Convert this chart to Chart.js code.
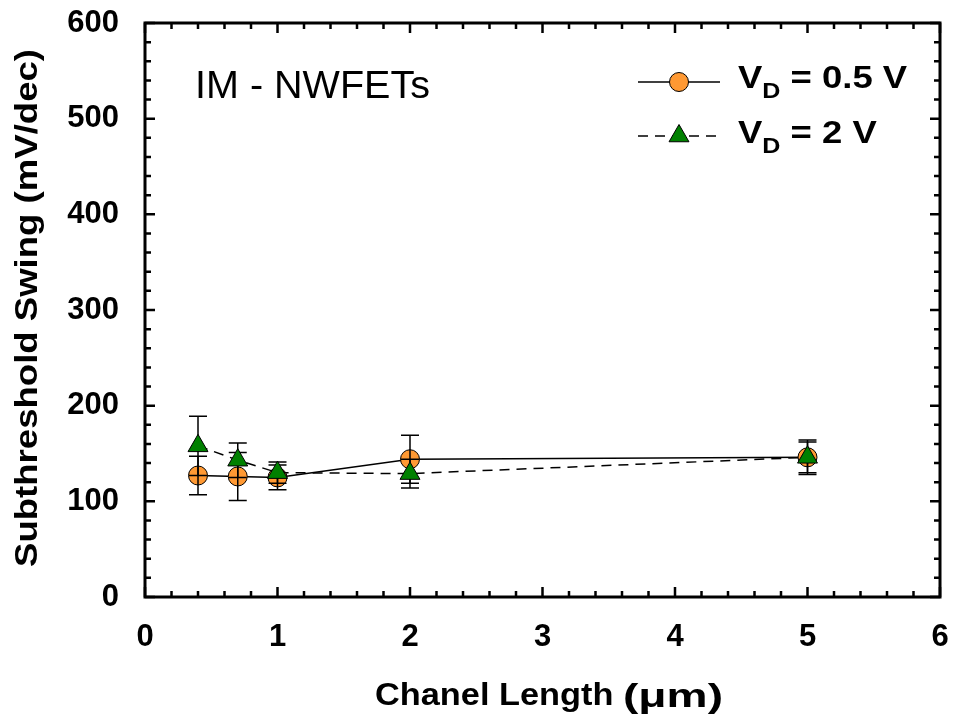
<!DOCTYPE html>
<html>
<head>
<meta charset="utf-8">
<title>Subthreshold Swing vs Channel Length</title>
<script src="https://cdn.jsdelivr.net/npm/chart.js@4/dist/chart.umd.min.js"></script>
<style>
  html, body { margin: 0; padding: 0; background: #ffffff; }
  #wrap { width: 955px; height: 722px; }
</style>
</head>
<body>
<div id="wrap"><canvas id="ss" width="955" height="722"></canvas></div>
<script>
// Channel lengths (µm)
const channelLengths = [0.4, 0.7, 1, 2, 5];
// Subthreshold swing (mV/dec) at VD = 0.5 V, with error half-widths
const swingVd05 = [127, 126, 125, 144, 146];
const swingVd05Err = [20, 25, 13, 25, 16];
// Subthreshold swing (mV/dec) at VD = 2 V, with error half-widths
const swingVd2 = [158, 143, 130, 129, 146];
const swingVd2Err = [31, 18, 11, 15, 18];
// Axis ranges and labels
const xTicks = [0, 1, 2, 3, 4, 5, 6];
const yTicks = [0, 100, 200, 300, 400, 500, 600];
const seriesLabels = ['0.5 V', '2 V'];
const panelLabel = 'IM - NWFETs';
const xTitleMain = 'Chanel Length ';
const xTitleUnit = '(\u03bcm)';
const yTitle = 'Subthreshold Swing (mV/dec)';

const ORANGE = '#FF9933';
const GREEN = '#008000';
const FONT = "'Liberation Sans', Arial, Helvetica, sans-serif";

const toPoints = (ys) => channelLengths.map((x, i) => ({ x: x, y: ys[i] }));

// Error bars for every series, drawn just before the triangles so they sit under them
const errorBars = {
  id: 'errorBars',
  beforeDatasetDraw(chart, args) {
    if (args.index !== 1) return;
    const { ctx, scales: { x, y } } = chart;
    const sets = [[swingVd05, swingVd05Err], [swingVd2, swingVd2Err]];
    ctx.save();
    ctx.strokeStyle = '#000';
    ctx.lineWidth = 1.5;
    sets.forEach(([vals, errs]) => {
      vals.forEach((v, i) => {
        const px = x.getPixelForValue(channelLengths[i]);
        const top = y.getPixelForValue(v + errs[i]);
        const bot = y.getPixelForValue(v - errs[i]);
        ctx.beginPath();
        ctx.moveTo(px, top); ctx.lineTo(px, bot);
        ctx.moveTo(px - 9, top); ctx.lineTo(px + 9, top);
        ctx.moveTo(px - 9, bot); ctx.lineTo(px + 9, bot);
        ctx.stroke();
      });
    });
    ctx.restore();
  }
};

// Writes text horizontally stretched so it spans the given width
function wideText(ctx, text, x, y, width) {
  const w = ctx.measureText(text).width;
  ctx.save();
  ctx.translate(x, y);
  ctx.scale(width / w, 1);
  ctx.fillText(text, 0, 0);
  ctx.restore();
}

// Frame, inward tick marks, axis titles, panel label and legend
const decorations = {
  id: 'decorations',
  afterDraw(chart) {
    const { ctx, chartArea: a, scales: { x, y } } = chart;
    ctx.save();
    ctx.strokeStyle = '#000';
    ctx.lineCap = 'butt';

    // tick marks on all four sides
    ctx.lineWidth = 2.5;
    for (let i = 0; i <= 30; i++) {
      const px = x.getPixelForValue(i * 0.2);
      const len = i % 5 === 0 ? 10 : 6;
      ctx.beginPath();
      ctx.moveTo(px, a.bottom); ctx.lineTo(px, a.bottom - len);
      ctx.moveTo(px, a.top); ctx.lineTo(px, a.top + len);
      ctx.stroke();
    }
    for (let i = 0; i <= 30; i++) {
      const py = y.getPixelForValue(i * 20);
      const len = i % 5 === 0 ? 10 : 6;
      ctx.beginPath();
      ctx.moveTo(a.left, py); ctx.lineTo(a.left + len, py);
      ctx.moveTo(a.right, py); ctx.lineTo(a.right - len, py);
      ctx.stroke();
    }

    // frame
    ctx.lineWidth = 3;
    ctx.strokeRect(a.left, a.top, a.right - a.left, a.bottom - a.top);

    ctx.fillStyle = '#000';
    ctx.textAlign = 'left';
    ctx.textBaseline = 'alphabetic';

    // x axis title: name, then the unit
    ctx.font = 'bold 31px ' + FONT;
    wideText(ctx, xTitleMain, 375, 705, 248);
    ctx.font = 'bold 33px ' + FONT;
    wideText(ctx, xTitleUnit, 623, 707, 100);

    // y axis title
    ctx.save();
    ctx.translate(37, 308);
    ctx.rotate(-Math.PI / 2);
    ctx.font = 'bold 31px ' + FONT;
    wideText(ctx, yTitle, -259, 0, 518);
    ctx.restore();

    // panel label
    ctx.font = '38px ' + FONT;
    wideText(ctx, panelLabel, 195, 98, 235);

    // legend
    const rows = [
      { y: 82, base: 88, color: ORANGE, shape: 'circle', dash: [], text: seriesLabels[0] },
      { y: 136, base: 143, color: GREEN, shape: 'triangle', dash: [10, 7], text: seriesLabels[1] }
    ];
    rows.forEach((r) => {
      ctx.lineWidth = 1.5;
      ctx.setLineDash(r.dash);
      ctx.beginPath();
      ctx.moveTo(638, r.y); ctx.lineTo(720, r.y);
      ctx.stroke();
      ctx.setLineDash([]);
      ctx.fillStyle = r.color;
      ctx.lineWidth = 1;
      ctx.beginPath();
      if (r.shape === 'circle') {
        ctx.arc(679, r.y, 9.5, 0, Math.PI * 2);
      } else {
        const rad = 11.5;
        ctx.moveTo(679, r.y - rad);
        ctx.lineTo(679 + rad * Math.sin(2 * Math.PI / 3), r.y + rad / 2);
        ctx.lineTo(679 - rad * Math.sin(2 * Math.PI / 3), r.y + rad / 2);
        ctx.closePath();
      }
      ctx.fill();
      ctx.stroke();

      ctx.fillStyle = '#000';
      ctx.save();
      ctx.translate(738, r.base);
      ctx.scale(1.14, 1);
      ctx.font = 'bold 32px ' + FONT;
      ctx.fillText('V', 0, 0);
      let cx = ctx.measureText('V').width;
      ctx.font = 'bold 22px ' + FONT;
      ctx.fillText('D', cx, 10);
      cx += ctx.measureText('D').width;
      ctx.font = 'bold 32px ' + FONT;
      ctx.fillText(' = ' + r.text, cx, 0);
      ctx.restore();
    });
    ctx.restore();
  }
};

new Chart(document.getElementById('ss'), {
  type: 'scatter',
  data: {
    datasets: [
      {
        label: 'VD = 0.5 V',
        data: toPoints(swingVd05),
        showLine: true,
        borderColor: '#000',
        borderWidth: 1.5,
        pointStyle: 'circle',
        pointRadius: 9.5,
        pointHoverRadius: 9.5,
        pointBackgroundColor: ORANGE,
        pointBorderColor: '#000',
        pointBorderWidth: 1,
        order: 2
      },
      {
        label: 'VD = 2 V',
        data: toPoints(swingVd2),
        showLine: true,
        borderColor: '#000',
        borderWidth: 1.5,
        borderDash: [10, 7],
        pointStyle: 'triangle',
        pointRadius: 11.5,
        pointHoverRadius: 11.5,
        pointBackgroundColor: GREEN,
        pointBorderColor: '#000',
        pointBorderWidth: 1,
        order: 1
      }
    ]
  },
  options: {
    responsive: false,
    animation: false,
    layout: { padding: { left: 0, right: 15, top: 23, bottom: 0 } },
    plugins: { legend: { display: false }, tooltip: { enabled: false } },
    scales: {
      x: {
        type: 'linear',
        min: xTicks[0],
        max: xTicks[xTicks.length - 1],
        grid: { display: false },
        border: { display: false },
        afterBuildTicks(scale) { scale.ticks = xTicks.map((v) => ({ value: v })); },
        afterFit(scale) {
          scale.height = 125;
          scale.paddingLeft = 0;
          scale.paddingRight = 0;
        },
        ticks: {
          color: '#000',
          font: { family: FONT, size: 31, weight: 'bold' },
          padding: 14,
          maxRotation: 0
        }
      },
      y: {
        type: 'linear',
        min: yTicks[0],
        max: yTicks[yTicks.length - 1],
        grid: { display: false },
        border: { display: false },
        afterBuildTicks(scale) { scale.ticks = yTicks.map((v) => ({ value: v })); },
        afterFit(scale) {
          scale.width = 145;
          scale.paddingTop = 0;
          scale.paddingBottom = 0;
        },
        ticks: {
          color: '#000',
          font: { family: FONT, size: 31, weight: 'bold' },
          padding: 18
        }
      }
    }
  },
  plugins: [errorBars, decorations]
});
</script>
</body>
</html>
